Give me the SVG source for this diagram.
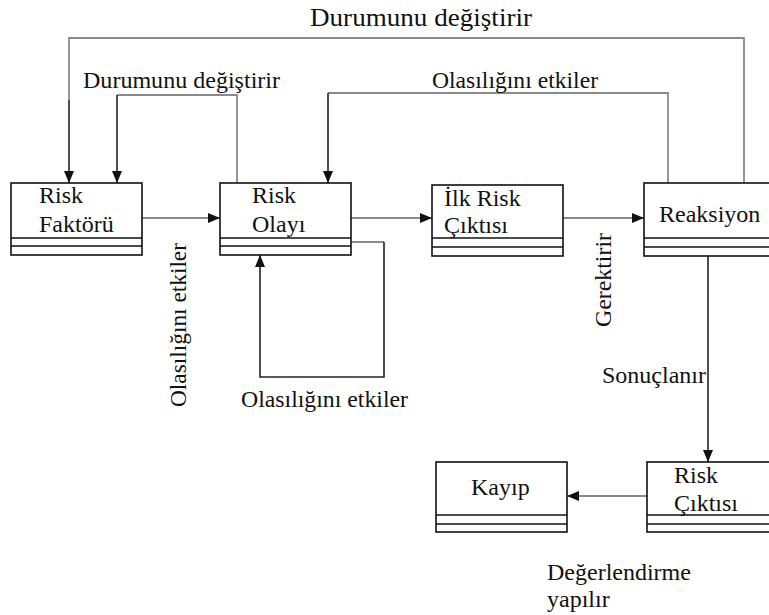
<svg xmlns="http://www.w3.org/2000/svg" width="769" height="615" viewBox="0 0 769 615" font-family="Liberation Serif, DejaVu Serif, serif">
  <style>
    .box { fill: #fff; stroke: #111; stroke-width: 1.6; }
    .sep { stroke: #111; stroke-width: 1.6; }
    text { font-family: Liberation Serif, DejaVu Serif, serif; font-size: 24px; fill: #111; }
    .gray { fill: none; stroke: #8a8a8a; stroke-width: 1.8; }
    .dark { fill: none; stroke: #222; stroke-width: 1.6; }
  </style>
  <defs>
    <marker id="arr" markerWidth="12" markerHeight="10" refX="12" refY="5" orient="auto" markerUnits="userSpaceOnUse">
      <path d="M0,0 L12,5 L0,10 Z" fill="#111"/>
    </marker>
  </defs>
  <rect width="769" height="615" fill="#fff"/>

  <g id="connectors">
    <!-- outer loop: Reaksiyon -> Risk Faktörü -->
    <path class="gray" d="M744,183 V38 H69 V100"/>
    <path class="dark" d="M69,100 V183" marker-end="url(#arr)"/>
    <!-- Risk Olayı -> Risk Faktörü -->
    <path class="gray" d="M237,183 V95 H117"/>
    <path class="dark" d="M117,95 V183" marker-end="url(#arr)"/>
    <!-- Reaksiyon -> Risk Olayı -->
    <path class="gray" d="M668,183 V93 H328"/>
    <path class="dark" d="M328,93 V183" marker-end="url(#arr)"/>
    <!-- main chain -->
    <path class="gray" d="M142,218 H220" marker-end="url(#arr)"/>
    <path class="gray" d="M351,218 H432" marker-end="url(#arr)"/>
    <path class="gray" d="M563,218 H644" marker-end="url(#arr)"/>
    <!-- self loop on Risk Olayı -->
    <path class="gray" d="M351,242 H384"/>
    <path class="dark" d="M384,242 V377 H260 V255" marker-end="url(#arr)"/>
    <!-- Reaksiyon -> Risk Çıktısı -->
    <path class="dark" d="M708,256 V462" marker-end="url(#arr)"/>
    <!-- Risk Çıktısı -> Kayıp -->
    <path class="gray" d="M647,496 H567" marker-end="url(#arr)"/>
  </g>

  <g id="edge-labels" font-family="Liberation Serif, serif">
    <text x="310" y="26" style="font-size:26px" textLength="222" lengthAdjust="spacingAndGlyphs">Durumunu değiştirir</text>
    <text x="83" y="88" textLength="197" lengthAdjust="spacingAndGlyphs">Durumunu değiştirir</text>
    <text x="432" y="88" textLength="166" lengthAdjust="spacingAndGlyphs">Olasılığını etkiler</text>
    <text transform="translate(186,407) rotate(-90)" textLength="164" lengthAdjust="spacingAndGlyphs">Olasılığını etkiler</text>
    <text x="241" y="407" textLength="167" lengthAdjust="spacingAndGlyphs">Olasılığını etkiler</text>
    <text transform="translate(611,327) rotate(-90)" textLength="94" lengthAdjust="spacingAndGlyphs">Gerektirir</text>
    <text x="602" y="383" textLength="104" lengthAdjust="spacingAndGlyphs">Sonuçlanır</text>
    <text x="547" y="580">Değerlendirme</text>
    <text x="547" y="607">yapılır</text>
  </g>

  <g id="risk-faktoru">
    <rect class="box" x="11" y="183" width="131" height="72"/>
    <line class="sep" x1="11" y1="238" x2="142" y2="238"/>
    <line class="sep" x1="11" y1="246" x2="142" y2="246"/>
    <text x="39" y="203">Risk</text>
    <text x="39" y="232">Faktörü</text>
  </g>

  <g id="risk-olayi">
    <rect class="box" x="220" y="183" width="131" height="72"/>
    <line class="sep" x1="220" y1="238" x2="351" y2="238"/>
    <line class="sep" x1="220" y1="246" x2="351" y2="246"/>
    <text x="252" y="203">Risk</text>
    <text x="252" y="232">Olayı</text>
  </g>

  <g id="ilk-risk-ciktisi">
    <rect class="box" x="432" y="185" width="131" height="71"/>
    <line class="sep" x1="432" y1="238" x2="563" y2="238"/>
    <line class="sep" x1="432" y1="247" x2="563" y2="247"/>
    <text x="444" y="206">İlk Risk</text>
    <text x="444" y="233">Çıktısı</text>
  </g>

  <g id="reaksiyon">
    <rect class="box" x="644" y="183" width="135" height="73"/>
    <line class="sep" x1="644" y1="238" x2="779" y2="238"/>
    <line class="sep" x1="644" y1="247" x2="779" y2="247"/>
    <text x="659" y="222">Reaksiyon</text>
  </g>

  <g id="kayip">
    <rect class="box" x="436" y="462" width="131" height="70"/>
    <line class="sep" x1="436" y1="515" x2="567" y2="515"/>
    <line class="sep" x1="436" y1="524" x2="567" y2="524"/>
    <text x="471" y="495">Kayıp</text>
  </g>

  <g id="risk-ciktisi">
    <rect class="box" x="647" y="462" width="132" height="70"/>
    <line class="sep" x1="647" y1="515" x2="779" y2="515"/>
    <line class="sep" x1="647" y1="524" x2="779" y2="524"/>
    <text x="674" y="483">Risk</text>
    <text x="674" y="511">Çıktısı</text>
  </g>
</svg>
